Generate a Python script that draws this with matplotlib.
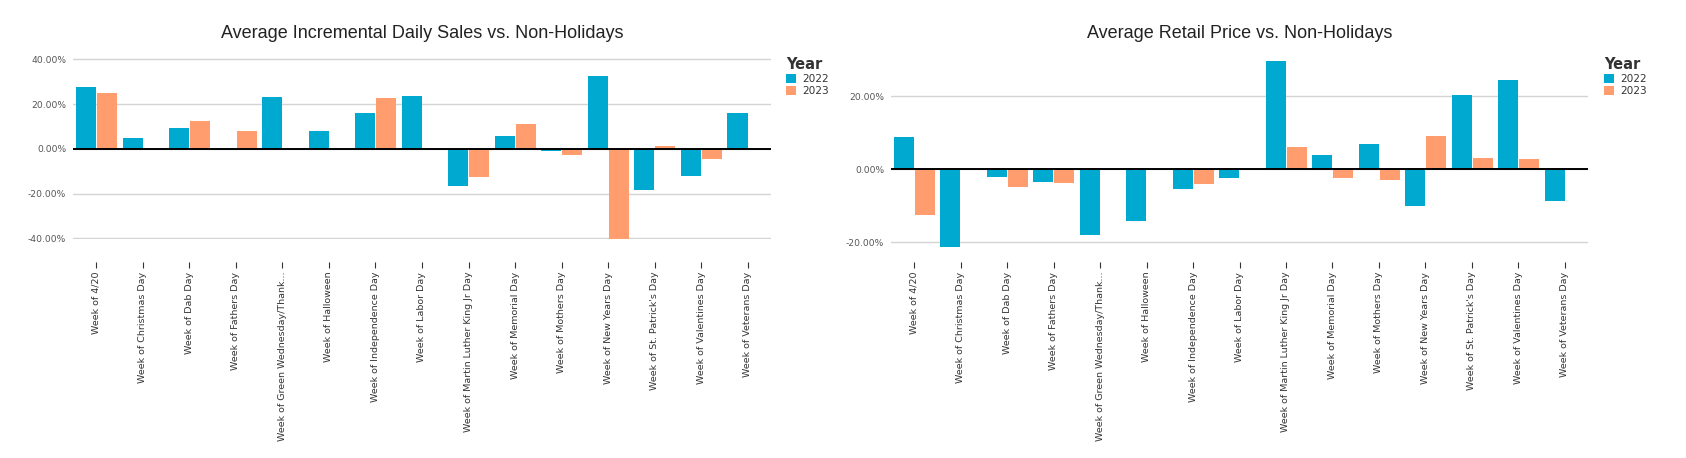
import numpy as np
import matplotlib
matplotlib.use("Agg")
import matplotlib.pyplot as plt
from matplotlib.ticker import FuncFormatter, FixedLocator

categories = ["Week of 4/20", "Week of Christmas Day", "Week of Dab Day",
              "Week of Fathers Day", "Week of Green Wednesday/Thank...",
              "Week of Halloween", "Week of Independence Day", "Week of Labor Day",
              "Week of Martin Luther King Jr Day", "Week of Memorial Day",
              "Week of Mothers Day", "Week of New Years Day",
              "Week of St. Patrick's Day", "Week of Valentines Day",
              "Week of Veterans Day"]
years = ["2022", "2023"]
nan = np.nan
sales_2022 = [27.5, 4.6, 9.5, -0.4, 23.0, 8.1, 16.2, 23.4, -16.5, 5.9, -0.8, 32.4, -18.3, -12.0, 15.8]
sales_2023 = [24.8, nan, 12.6, 8.1, nan, nan, 22.5, nan, -12.5, 11.3, -3.0, -40.3, 1.4, -4.4, nan]
price_2022 = [8.85, -21.3, -2.0, -3.4, -17.9, -14.3, -5.3, -2.3, 29.7, 3.9, 6.9, -10.1, 20.4, 24.5, -8.7]
price_2023 = [-12.4, nan, -4.8, -3.7, nan, nan, -3.9, nan, 6.1, -2.3, -2.8, 9.1, 3.1, 2.8, nan]

C_BLUE = "#00A9CF"
C_ORANGE = "#FF9D6F"

W, H = 1686, 458
fig = plt.figure(figsize=(W / 100, H / 100), dpi=100)


def px_axes(x0, x1, ytop, ybot):
    return fig.add_axes([x0 / W, 1 - ybot / H, (x1 - x0) / W, (ybot - ytop) / H])


def draw(ax, v22, v23, ylim, yticks, title, tick_loc, legend_x):
    x = np.arange(len(categories))
    bw = 0.43
    ax.bar(x - 0.22, v22, bw, color=C_BLUE, edgecolor="none", zorder=3, label=years[0])
    ax.bar(x + 0.23, v23, bw, color=C_ORANGE, edgecolor="none", zorder=3, label=years[1])
    ax.set_xlim(-0.5, len(categories) - 0.5)
    ax.set_ylim(*ylim)
    ax.set_yticks(yticks)
    ax.yaxis.set_major_formatter(FuncFormatter(lambda v, p: f"{v:.2f}%"))
    ax.tick_params(axis="y", length=0, pad=5, labelsize=6.6, labelcolor="#555555")
    ax.set_xticks([])
    for s in ax.spines.values():
        s.set_visible(False)
    ax.grid(axis="y", color="#d4d4d4", linewidth=1, zorder=0)
    ax.axhline(0, color="black", linewidth=1.4, zorder=4)
    sec = ax.secondary_xaxis(tick_loc)
    sec.spines["bottom"].set_visible(False)
    sec.set_xticks(x)
    sec.set_xticklabels(categories, rotation=90, fontsize=6.8, color="#333333")
    sec.tick_params(axis="x", length=4, width=0.8, color="#333333", pad=3)
    # title
    bb = ax.get_position()
    fig.text(bb.x0 + bb.width / 2, 1 - 33 / H, title, ha="center", va="center",
             fontsize=13, color="#222222", family="Liberation Sans")
    leg = ax.legend(loc="upper left", bbox_to_anchor=(legend_x / W, 1 - 57 / H),
                    bbox_transform=fig.transFigure, frameon=False, borderpad=0,
                    borderaxespad=0, handlelength=0.9, handleheight=1.0,
                    handletextpad=0.6, labelspacing=0.15, fontsize=7.6,
                    title="Year", title_fontproperties={"weight": "bold", "size": 10.5},
                    alignment="left")
    for t in leg.get_texts():
        t.set_color("#333333")
    leg.get_title().set_color("#333333")


ax1 = px_axes(73, 771, 58.2, 238.9)
draw(ax1, sales_2022, sales_2023, (-40.3, 40.5), [-40, -20, 0, 20, 40],
     "Average Incremental Daily Sales vs. Non-Holidays", -(262 - 238.9) / (238.9 - 58.2), 786)

ax2 = px_axes(891, 1588, 59.8, 247.4)
draw(ax2, price_2022, price_2023, (-21.4, 30), [-20, 0, 20],
     "Average Retail Price vs. Non-Holidays", -(262 - 247.4) / (247.4 - 59.8), 1604)

fig.savefig("out.png", dpi=100)
